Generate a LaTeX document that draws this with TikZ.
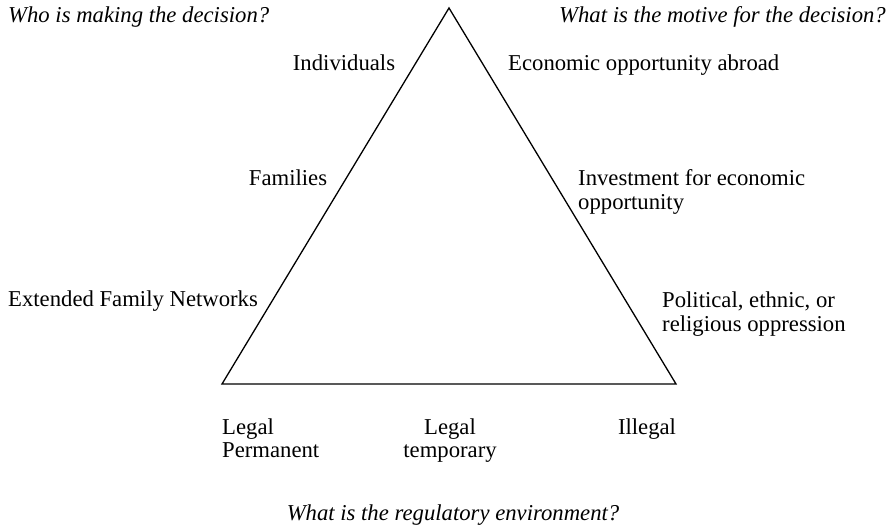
\documentclass[tikz,border=0pt]{standalone}
\usepackage{fontspec}
\setmainfont{Liberation Serif}
\begin{document}
\begin{tikzpicture}[x=1pt,y=-1pt,
  lbl/.style={inner sep=0pt,font=\fontsize{22.7}{24}\selectfont,align=left},
  lblc/.style={inner sep=0pt,font=\fontsize{22.7}{24}\selectfont,align=center},
  q/.style={inner sep=0pt,font=\fontsize{22.7}{24}\selectfont\itshape}]
\useasboundingbox (0,0) rectangle (892,526);
\coordinate (A) at (449,8);
\coordinate (B) at (222,384);
\coordinate (C) at (676,384);
\draw[line width=1.3pt,line join=miter] (A) -- (B) -- (C) -- cycle;
\node[q,anchor=base west] (who) at (8,23) {Who is making the decision?};
\node[q,anchor=base east] (what) at (886,23) {What is the motive for the decision?};
\node[lbl,anchor=base] (ind) at (344,71) {Individuals};
\node[lbl,anchor=base west] (eco) at (508,71) {Economic opportunity abroad};
\node[lbl,anchor=base] (fam) at (288,186) {Families};
\node[lbl,anchor=base west] (inv) at (578,210) {Investment for economic\\opportunity};
\node[lbl,anchor=base west] (ext) at (8,307) {Extended Family Networks};
\node[lbl,anchor=base west] (pol) at (662,332) {Political, ethnic, or\\religious oppression};
\node[lbl,anchor=base west] (lp) at (222,458) {Legal\\Permanent};
\node[lblc,anchor=base] (lt) at (450,458) {Legal\\temporary};
\node[lbl,anchor=base] (il) at (647,435) {Illegal};
\node[q,anchor=base] (reg) at (453,520) {What is the regulatory environment?};
\end{tikzpicture}
\end{document}
